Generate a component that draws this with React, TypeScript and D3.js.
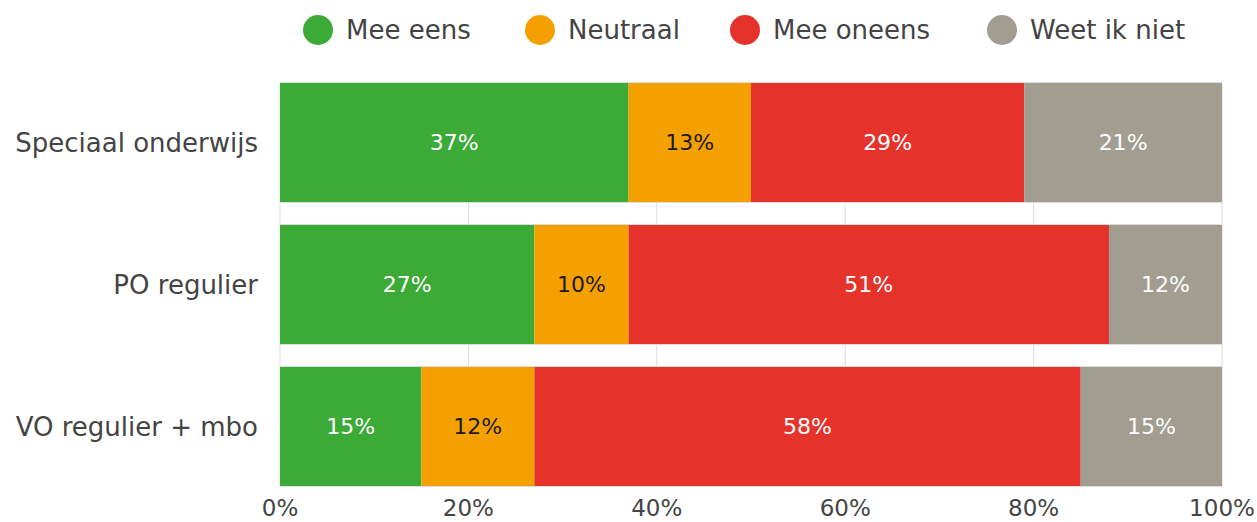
import React from "react";
import * as d3 from "d3";

const categories = ["Speciaal onderwijs", "PO regulier", "VO regulier + mbo"];
const seriesNames = ["Mee eens", "Neutraal", "Mee oneens", "Weet ik niet"];
const meeEens = [37, 27, 15];
const neutraal = [13, 10, 12];
const meeOneens = [29, 51, 58];
const weetIkNiet = [21, 12, 15];
const ticks = [0, 20, 40, 60, 80, 100];

const colors = ["#3caa36", "#f5a001", "#e5322a", "#a19e91"];
const labelColors = ["#ffffff", "#1a1a1a", "#ffffff", "#ffffff"];
const legendX = [318, 540, 745, 1002];

const W = 1257, H = 522;
const FONT = "'DejaVu Sans', sans-serif";

export default function App() {
  const x = d3.scaleLinear().domain([0, 100]).range([280, 1222]);
  const y = d3.scaleBand().domain(categories).range([71.5, 497.5]).paddingInner(23 / 142).paddingOuter(11.5 / 142);
  const rows = categories.map((c, i) => ({ c, vals: [meeEens[i], neutraal[i], meeOneens[i], weetIkNiet[i]] }));
  const stack = d3.stack<any>().keys([0, 1, 2, 3] as any).value((d: any, k: any) => d.vals[k]);
  const series = stack(rows as any);
  const bw = y.bandwidth();
  return (
    <svg width={W} height={H} style={{ position: "absolute", left: 0, top: 0 }}>
      <rect width={W} height={H} fill="#fff" />
      {ticks.map((t) => (
        <line key={t} x1={x(t)} x2={x(t)} y1={y(categories[0])!} y2={y(categories[2])! + bw} stroke="#dcdcdc" strokeWidth={1} />
      ))}
      {categories.map((c) => (
        <g key={c}>
          <line x1={x(0)} x2={x(100)} y1={y(c)! - 0.5} y2={y(c)! - 0.5} stroke="#dcdcdc" />
          <line x1={x(0)} x2={x(100)} y1={y(c)! + bw + 0.5} y2={y(c)! + bw + 0.5} stroke="#dcdcdc" />
        </g>
      ))}
      {series.map((s, si) => (
        <g key={si}>
          {s.map((d: any, i) => (
            <g key={i}>
              <rect x={x(d[0])} y={y(categories[i])} width={x(d[1]) - x(d[0])} height={bw} fill={colors[si]} />
              <text x={(x(d[0]) + x(d[1])) / 2} y={y(categories[i])! + bw / 2} dy="0.36em" textAnchor="middle" fontSize={22} fontFamily={FONT} fill={labelColors[si]}>
                {d.data.vals[si]}%
              </text>
            </g>
          ))}
        </g>
      ))}
      {categories.map((c) => (
        <text key={c} x={258} y={y(c)! + bw / 2} dy="0.36em" textAnchor="end" fontSize={26} fontFamily={FONT} fill="#444">
          {c}
        </text>
      ))}
      {ticks.map((t) => (
        <text key={t} x={x(t)} y={516} textAnchor="middle" fontSize={23} fontFamily={FONT} fill="#444">
          {t}%
        </text>
      ))}
      {seriesNames.map((n, i) => (
        <g key={n}>
          <circle cx={legendX[i]} cy={30} r={15} fill={colors[i]} />
          <text x={legendX[i] + 28} y={30} dy="0.36em" fontSize={26} fontFamily={FONT} fill="#444">
            {n}
          </text>
        </g>
      ))}
    </svg>
  );
}
